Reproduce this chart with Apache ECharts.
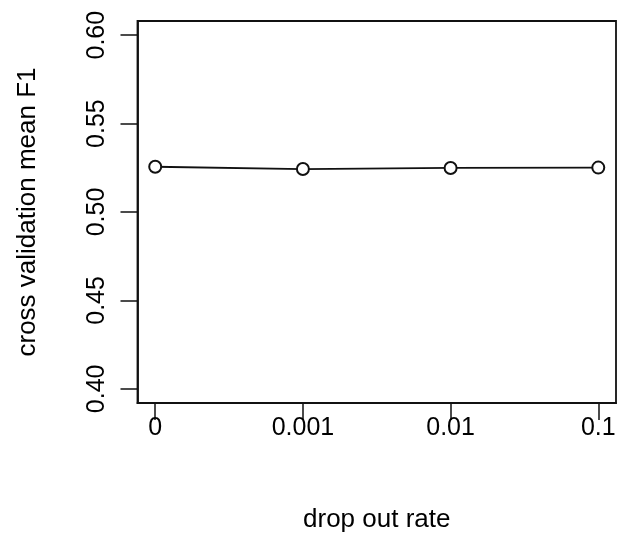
<!DOCTYPE html>
<html>
<head>
<meta charset="utf-8">
<script src="https://cdn.jsdelivr.net/npm/echarts@6/dist/echarts.min.js"></script>
<style>
html,body{margin:0;padding:0;background:#fff;}
#chart{width:635px;height:535px;}
</style>
</head>
<body>
<div id="chart"></div>
<script>
const categories = ['0', '0.001', '0.01', '0.1'];
const f1Values = [0.5256, 0.5243, 0.5249, 0.5251];
const yTicks = [0.40, 0.45, 0.50, 0.55, 0.60];
const xTicks = [0, 1, 2, 3];

const FONT = 'Liberation Sans, Arial, Helvetica, sans-serif';
const chart = echarts.init(document.getElementById('chart'), null, {renderer: 'canvas'});

const seriesData = f1Values.map((v, i) => [i, v]);

chart.setOption({
  animation: false,
  backgroundColor: '#fff',
  grid: {
    left: 137.5, right: 19, top: 21, bottom: 132,
    containLabel: false,
    outerBoundsMode: 'none',
    show: true, borderColor: '#111', borderWidth: 1.8, backgroundColor: 'transparent'
  },
  xAxis: {
    type: 'value',
    min: -0.12, max: 3.12,
    name: 'drop out rate',
    nameLocation: 'middle',
    nameGap: 104,
    nameTextStyle: {fontFamily: FONT, fontSize: 26, color: '#000', verticalAlign: 'top'},
    axisLine: {show: true, onZero: false, lineStyle: {color: '#111', width: 1.8}},
    axisTick: {show: true, customValues: xTicks, length: 17, inside: false, lineStyle: {color: '#111', width: 1.5}},
    axisLabel: {
      show: true, customValues: xTicks, margin: 13,
      fontFamily: FONT, fontSize: 25, color: '#000',
      formatter: v => categories[Math.round(v)]
    },
    splitLine: {show: false}
  },
  yAxis: {
    type: 'value',
    min: 0.392, max: 0.608,
    name: 'cross validation mean F1',
    nameLocation: 'middle',
    nameRotate: 90,
    nameGap: 97,
    nameTextStyle: {fontFamily: FONT, fontSize: 26, color: '#000'},
    axisLine: {show: true, onZero: false, lineStyle: {color: '#111', width: 1.8}},
    axisTick: {show: true, customValues: yTicks, length: 17, lineStyle: {color: '#111', width: 1.5}},
    axisLabel: {
      show: true, customValues: yTicks, margin: 28, rotate: 90,
      fontFamily: FONT, fontSize: 25, color: '#000',
      formatter: v => v.toFixed(2)
    },
    splitLine: {show: false}
  },
  series: [{
    type: 'line',
    data: seriesData,
    symbol: 'circle',
    symbolSize: 12,
    showAllSymbol: true,
    lineStyle: {color: '#111', width: 1.8},
    itemStyle: {color: '#fff', borderColor: '#111', borderWidth: 2},
    z: 3
  }]
});
</script>
</body>
</html>
